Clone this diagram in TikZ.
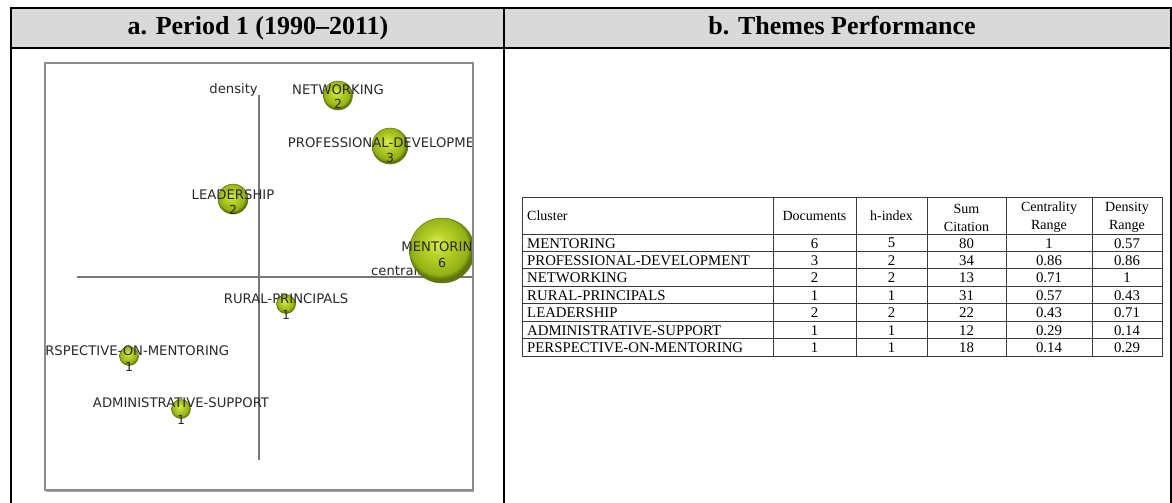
\documentclass[tikz,border=0pt]{standalone}
\usepackage{fontspec}
\setmainfont{Liberation Serif}
\newfontfamily\plotfont{DejaVu Sans}
\definecolor{headfill}{HTML}{D9D9D9}
\definecolor{bubhi}{HTML}{D8EC58}
\definecolor{bubmid}{HTML}{B6D024}
\definecolor{bubdark}{HTML}{93B116}
\definecolor{bubedge}{HTML}{62740E}
\definecolor{axisgray}{HTML}{777777}
\definecolor{framegray}{HTML}{8C8C8C}
\definecolor{plottext}{HTML}{2A2A2A}
\definecolor{tabline}{HTML}{3A3A3A}
\pgfdeclareradialshading{bubble}{\pgfpoint{-4bp}{6bp}}{%
  color(0bp)=(bubhi); color(10bp)=(bubmid); color(22bp)=(bubdark);
  color(25bp)=(bubedge); color(50bp)=(bubedge)}
\begin{document}
\begin{tikzpicture}[x=1pt,y=-1pt,
  outline/.style={line width=1.4pt, black},
  titletext/.style={font=\fontsize{26}{30}\selectfont\bfseries, anchor=base, inner sep=0pt},
  bub/.style={circle, draw=bubedge, line width=0.5pt, shading=bubble, inner sep=0pt, minimum size=#1},
  lbl/.style={font=\plotfont\fontsize{13.2}{15}\selectfont, text=plottext, inner sep=0pt},
  num/.style={font=\plotfont\fontsize{12.5}{15}\selectfont, text=plottext, inner sep=0pt},
  axisline/.style={axisgray, line width=1.2pt},
  tline/.style={tabline, line width=0.8pt},
  cellL/.style={font=\fontsize{14.8}{18}\selectfont, anchor=west, inner sep=0pt},
  cellC/.style={font=\fontsize{14.8}{18}\selectfont, anchor=center, inner sep=0pt, align=center},
  headC/.style={font=\fontsize{14}{18}\selectfont, anchor=center, inner sep=0pt, align=center}
]
% page
\path[use as bounding box, fill=white] (0,0) rectangle (1172,503);

% outer frame with grey header band
\fill[headfill] (11,8) rectangle (1171,48);
\draw[outline] (11,503) -- (11,8) -- (1171,8) -- (1171,503);
\draw[outline] (11,48) -- (1171,48);
\draw[outline] (504,8) -- (504,503);
\node[titletext] (titleA) at (258,35) {a. Period 1 (1990–2011)};
\node[titletext] (titleB) at (842,35) {b. Themes Performance};

% ---------- strategic diagram ----------
\coordinate (axtop) at (259,95);
\coordinate (axbot) at (259,460);
\coordinate (axleft) at (77,277);
\coordinate (axright) at (473,277);
\draw[axisline] (axtop) -- (axbot);
\draw[axisline] (axleft) -- (axright);

\begin{scope}
  \clip (45,63) rectangle (473,490);
  \node[lbl, anchor=east] (dens) at (258,90) {density};
  \node[lbl, anchor=west] (cent) at (371,272) {centrality};

  \node[bub=29pt] (netB) at (338,95.5) {};
  \node[bub=36pt] (proB) at (390,146) {};
  \node[bub=30pt] (leaB) at (233,199) {};
  \node[bub=65pt] (menB) at (442,250.5) {};
  \node[bub=19pt] (rurB) at (286,304) {};
  \node[bub=19pt] (perB) at (129,356) {};
  \node[bub=19pt] (admB) at (181,409) {};

  \node[lbl] (netL) at (338,90) {NETWORKING};
  \node[lbl] (proL) at (390,143) {PROFESSIONAL-DEVELOPMENT};
  \node[lbl] (leaL) at (233,195) {LEADERSHIP};
  \node[lbl] (menL) at (442,247) {MENTORING};
  \node[lbl] (rurL) at (286,299) {RURAL-PRINCIPALS};
  \node[lbl] (perL) at (129,351) {PERSPECTIVE-ON-MENTORING};
  \node[lbl] (admL) at (181,403) {ADMINISTRATIVE-SUPPORT};

  \node[num] (netN) at (338,103.5) {2};
  \node[num] (proN) at (390,158) {3};
  \node[num] (leaN) at (233,210) {2};
  \node[num] (menN) at (442,263) {6};
  \node[num] (rurN) at (286,315) {1};
  \node[num] (perN) at (129,367) {1};
  \node[num] (admN) at (181,420) {1};
\end{scope}

% plot frame with a soft lower edge
\draw[framegray, line width=1.3pt] (45,63) rectangle (473,490);
\draw[framegray!80, line width=1.2pt] (46,491.5) -- (474,491.5);

% ---------- themes performance table ----------
\draw[tline] (522,197) rectangle (1162,356);
\foreach \xx in {773,856,927,1006,1092} \draw[tline] (\xx,197) -- (\xx,356);
\foreach \k in {0,...,6} \draw[tline] (522,234+17.43*\k) -- (1162,234+17.43*\k);

\node[headC, anchor=west] (hClu) at (527,216) {Cluster};
\node[headC] (hDoc) at (814.5,216) {Documents};
\node[headC] (hH) at (891.5,216) {h-index};
\node[headC] (hSum) at (966.5,217.5) {Sum\\Citation};
\node[headC] (hCen) at (1049,217.5) {Centrality\\Range};
\node[headC] (hDen) at (1127,217.5) {Density\\Range};

\foreach \nm/\dc/\hi/\sm/\cn/\dn [count=\i] in {
  MENTORING/6/5/80/1/0.57,
  PROFESSIONAL-DEVELOPMENT/3/2/34/0.86/0.86,
  NETWORKING/2/2/13/0.71/1,
  RURAL-PRINCIPALS/1/1/31/0.57/0.43,
  LEADERSHIP/2/2/22/0.43/0.71,
  ADMINISTRATIVE-SUPPORT/1/1/12/0.29/0.14,
  PERSPECTIVE-ON-MENTORING/1/1/18/0.14/0.29}{
  \pgfmathsetmacro\yy{234+17.43*(\i-0.5)+0.5}
  \node[cellL] (clu\i) at (527,\yy) {\nm};
  \node[cellC] (doc\i) at (814.5,\yy) {\dc};
  \node[cellC] (hix\i) at (891.5,\yy) {\hi};
  \node[cellC] (sum\i) at (966.5,\yy) {\sm};
  \node[cellC] (cen\i) at (1049,\yy) {\cn};
  \node[cellC] (den\i) at (1127,\yy) {\dn};
}
\end{tikzpicture}
\end{document}
